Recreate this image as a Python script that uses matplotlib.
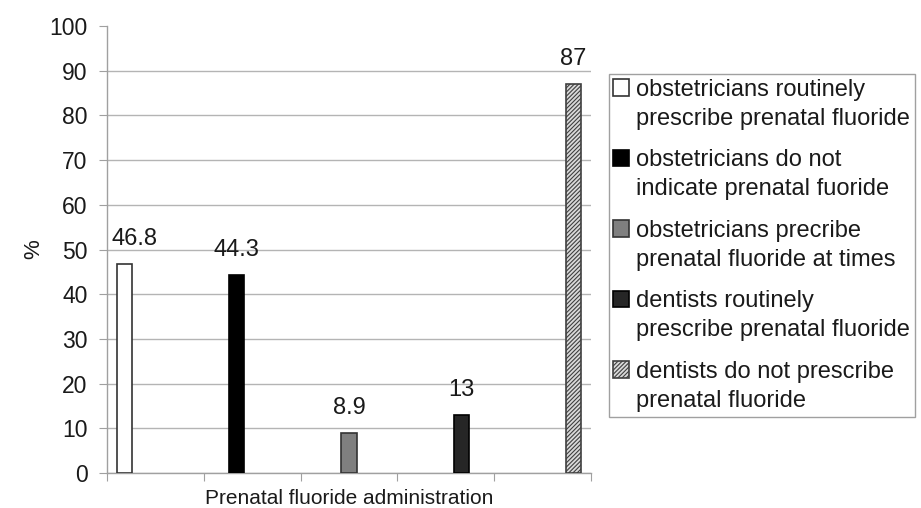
import numpy as np
import matplotlib
matplotlib.use("Agg")
import matplotlib.pyplot as plt
from matplotlib.patches import Patch, Rectangle
from matplotlib.legend_handler import HandlerPatch

plt.rcParams['font.family'] = ['Liberation Sans', 'DejaVu Sans']
plt.rcParams['hatch.linewidth'] = 0.8

# Datos
series = [
    "obstetricians routinely\nprescribe prenatal fluoride",
    "obstetricians do not\nindicate prenatal fuoride",
    "obstetricians precribe\nprenatal fluoride at times",
    "dentists routinely\nprescribe prenatal fluoride",
    "dentists do not prescribe\nprenatal fluoride",
]
valores = [46.8, 44.3, 8.9, 13, 87]
etiquetas = ["46.8", "44.3", "8.9", "13", "87"]
colores = ["white", "black", "#7f7f7f", "#262626", "#d9d9d9"]
bordes = ["#333333", "black", "#333333", "black", "#404040"]
tramas = [None, None, None, None, "////////"]
yticks = list(range(0, 101, 10))
xlabel = "Prenatal fluoride administration"

fig = plt.figure(figsize=(9.21, 5.08), dpi=100)
ax = fig.add_axes([0.1162, 0.0689, 0.5255, 0.8799])

n = len(valores)
ancho = 0.16
for i, v in enumerate(valores):
    x = i + (i - (n - 1) / 2) * ancho
    ax.bar(x, v, width=ancho, color=colores[i], edgecolor=bordes[i],
           linewidth=1.2, hatch=tramas[i], zorder=3)
    # la primera etiqueta va algo desplazada para no pisar el eje
    dx = 0.1 if i == 0 else 0.0
    ax.text(x + dx, v + 3.2, etiquetas[i], ha='center', va='bottom',
            fontsize=17, color='#1a1a1a', zorder=4)

ax.set_xlim(-0.5, n - 0.5)
ax.set_ylim(0, 100)
ax.set_yticks(yticks)
ax.set_xticks(np.arange(-0.5, n, 1.0))
ax.set_xticklabels([])
ax.tick_params(axis='y', direction='out', length=6, color='#a0a0a0',
               labelsize=16.5, labelcolor='#1a1a1a', pad=8)
ax.tick_params(axis='x', direction='out', length=6, color='#a0a0a0')

ax.yaxis.grid(True, color='#b4b4b4', linewidth=1.0, zorder=0)
ax.set_axisbelow(True)
ax.get_ygridlines()[-1].set_visible(False)

for s in ['top', 'right']:
    ax.spines[s].set_visible(False)
for s in ['left', 'bottom']:
    ax.spines[s].set_color('#a0a0a0')
    ax.spines[s].set_linewidth(1.0)

ax.set_xlabel(xlabel, fontsize=15, color='#1a1a1a', labelpad=2)
ax.set_ylabel("%", fontsize=16, color='#1a1a1a', labelpad=4)


# Cuadro de la leyenda alineado con la primera línea del texto
def cuadro_arriba(legend, orig_handle, xdescent, ydescent, width, height, fontsize):
    return Rectangle((-xdescent, -ydescent + 0.72 * fontsize), width, height)


handles = [Patch(facecolor=colores[i], edgecolor=bordes[i], hatch=tramas[i],
                 linewidth=1.2) for i in range(n)]
leg = fig.legend(handles, series, loc='upper right',
                 bbox_to_anchor=(915 / 921, 1 - 74 / 508),
                 fontsize=17, frameon=True, fancybox=False,
                 edgecolor='#a0a0a0', framealpha=1,
                 handlelength=0.68, handleheight=0.68, handletextpad=0.3,
                 labelspacing=0.82, borderpad=0.2, borderaxespad=0,
                 handler_map={Patch: HandlerPatch(patch_func=cuadro_arriba)})
leg.get_frame().set_linewidth(1.0)
for t in leg.get_texts():
    t.set_color('#1a1a1a')
    t.set_linespacing(1.42)

fig.savefig("out.png", dpi=100)
